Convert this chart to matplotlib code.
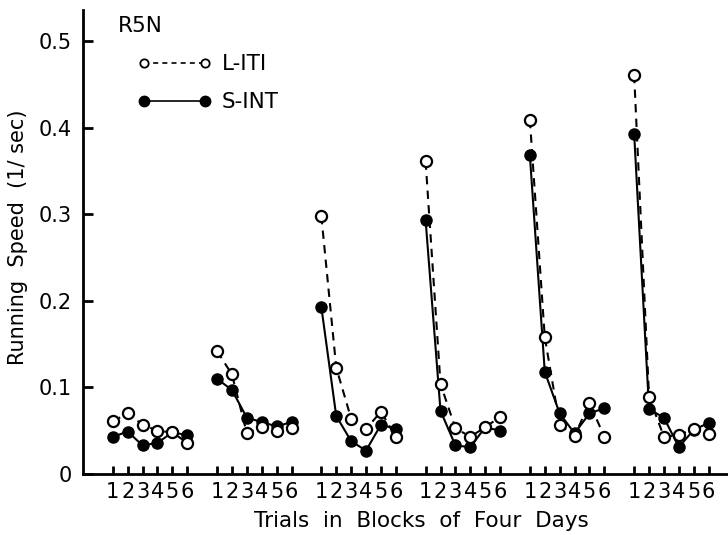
import numpy as np
import matplotlib.pyplot as plt
from matplotlib.lines import Line2D

# running speed (1/sec) per trial, six trials in each of six blocks
trials = [1, 2, 3, 4, 5, 6]
n_blocks = 6
l_iti = [
    [0.061, 0.070, 0.057, 0.050, 0.048, 0.036],
    [0.142, 0.115, 0.047, 0.054, 0.050, 0.053],
    [0.298, 0.123, 0.064, 0.052, 0.072, 0.043],
    [0.361, 0.104, 0.053, 0.043, 0.054, 0.066],
    [0.409, 0.158, 0.057, 0.044, 0.082, 0.043],
    [0.461, 0.089, 0.043, 0.045, 0.052, 0.046],
]
s_int = [
    [0.043, 0.049, 0.033, 0.036, 0.048, 0.045],
    [0.110, 0.097, 0.065, 0.060, 0.055, 0.060],
    [0.193, 0.067, 0.038, 0.027, 0.057, 0.052],
    [0.293, 0.073, 0.033, 0.031, 0.054, 0.050],
    [0.368, 0.118, 0.070, 0.047, 0.070, 0.076],
    [0.393, 0.075, 0.065, 0.031, 0.051, 0.059],
]
block_gap = 7

plt.rcParams['font.family'] = 'DejaVu Sans'
fig = plt.figure(figsize=(7.28, 5.35), dpi=100)
ax = fig.add_axes([83/728, 61/535, 645/728, 464/535])

xticks = []
xlabels = []
for b in range(n_blocks):
    x = np.array(trials) + block_gap*b
    xticks += list(x)
    xlabels += [str(t) for t in trials]
    ax.plot(x, s_int[b], '-', color='black', lw=1.5, marker='o', ms=8,
            mfc='black', mec='black', zorder=2)
    ln, = ax.plot(x, l_iti[b], '--', color='black', lw=1.5, marker='o', ms=8,
                  mfc='white', mec='black', mew=1.6, zorder=3)
    ln.set_dashes([4, 3])

ax.set_xlim(-1.0, 42.3)
ax.set_ylim(0, 0.536)
ax.set_xticks(xticks)
ax.set_xticklabels(xlabels, fontsize=15)
ax.set_yticks([0, 0.1, 0.2, 0.3, 0.4, 0.5])
ax.set_yticklabels(['0', '0.1', '0.2', '0.3', '0.4', '0.5'], fontsize=15)
ax.tick_params(axis='y', direction='in', length=7, width=2, pad=8)
ax.tick_params(axis='x', direction='in', length=6, width=2, pad=6)

for s in ['top', 'right']:
    ax.spines[s].set_visible(False)
for s in ['left', 'bottom']:
    ax.spines[s].set_linewidth(2)

ax.set_ylabel('Running  Speed  (1/ sec)', fontsize=15)
ax.yaxis.set_label_coords(-0.086, 0.51)
ax.set_xlabel('Trials  in  Blocks  of  Four  Days', fontsize=15.5)
ax.xaxis.set_label_coords(0.524, -0.08)

ax.text(0.054, 0.965, 'R5N', transform=ax.transAxes, fontsize=15.5,
        ha='left', va='center')

h1 = Line2D([], [], ls='--', color='black', lw=1.2, marker='o', ms=6,
            mfc='white', mec='black', mew=1.3, dashes=[3, 2.5])
h2 = Line2D([], [], ls='-', color='black', lw=1.2, marker='o', ms=7.5,
            mfc='black', mec='black')
ax.legend([h1, h2], ['L-ITI', 'S-INT'], loc='upper left',
          bbox_to_anchor=(0.085, 0.905), frameon=False, fontsize=15.5,
          numpoints=2, handlelength=3.4, handletextpad=0.5,
          labelspacing=0.85, borderpad=0, borderaxespad=0)

fig.savefig('out.png', dpi=100)
